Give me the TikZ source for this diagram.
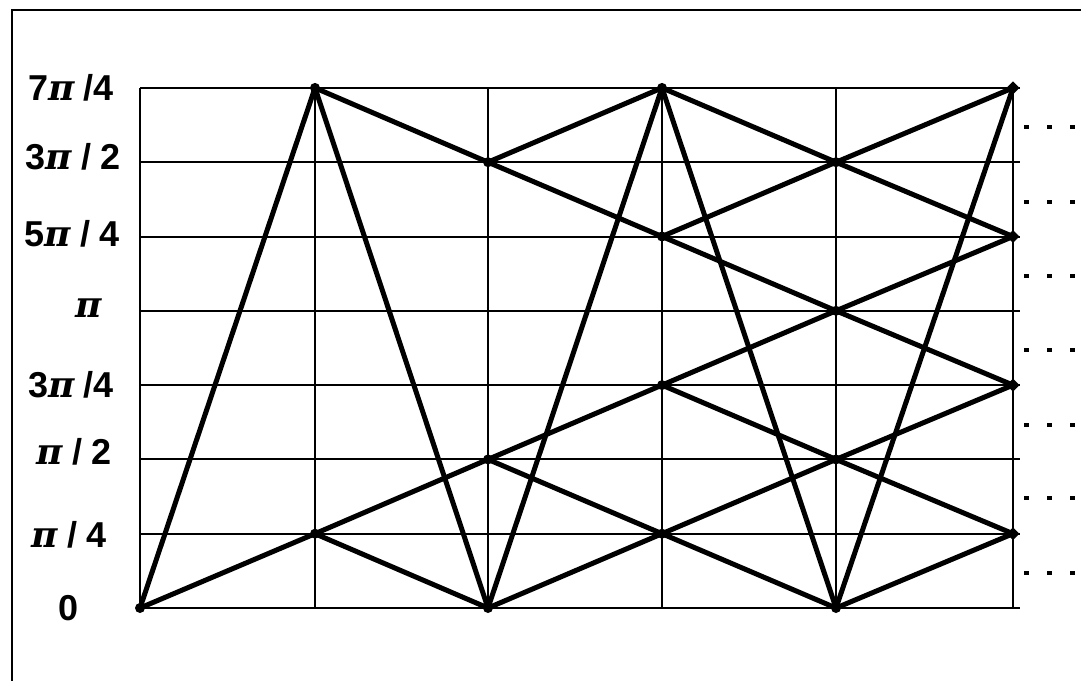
\documentclass[tikz,border=0pt]{standalone}
\usepackage{fontspec}
\setmainfont{Liberation Sans}
\newfontfamily\pif{DejaVu Serif}
\usetikzlibrary{shapes.geometric}
\begin{document}
\begin{tikzpicture}[x=1pt,y=-1pt,
  frame/.style={line width=2.4pt},
  gridline/.style={line width=2pt},
  trel/.style={line width=5pt,line cap=round},
  vtx/.style={circle,fill,inner sep=0pt,minimum size=10pt},
  endv/.style={diamond,fill,inner sep=0pt,minimum size=13pt},
  lab/.style={font=\fontsize{36}{36}\selectfont\bfseries,inner sep=0pt,anchor=center},
  dotrow/.style={line width=4pt,dash pattern=on 5pt off 18pt}]
\newcommand{\PI}{{\pif\bfseries\itshape π}}
\newcommand{\gap}{\hspace{9pt}}
\useasboundingbox (0,0) rectangle (1081,680);
\draw[frame] (12,700) -- (12,10) -- (1100,10);
% grid coordinates
\foreach \c/\x in {0/140,1/315,2/488,3/662,4/836,5/1013}{
  \foreach \r in {0,...,7}{
    \coordinate (v\c-\r) at (\x,{608-74.3*\r});
  }
}
% horizontal lines
\foreach \r in {0,...,7}{
  \coordinate (he\r) at (1020,{608-74.3*\r});
  \draw[gridline] (v0-\r) -- (he\r);
}
% vertical lines
\foreach \c in {0,...,5}{
  \draw[gridline] (v\c-0) -- (v\c-7);
}
% trellis edges
\foreach \a/\b in {0-0/1-1,0-0/1-7,
  1-1/2-0,1-1/2-2,1-7/2-0,1-7/2-6,
  2-0/3-1,2-0/3-7,2-2/3-1,2-2/3-3,2-6/3-5,2-6/3-7,
  3-1/4-0,3-1/4-2,3-3/4-2,3-3/4-4,3-5/4-4,3-5/4-6,3-7/4-6,3-7/4-0,
  4-0/5-1,4-0/5-7,4-2/5-1,4-2/5-3,4-4/5-3,4-4/5-5,4-6/5-5,4-6/5-7}{
  \draw[trel] (v\a) -- (v\b);
}
% vertices
\foreach \v in {0-0,1-1,1-7,2-0,2-2,2-6,3-1,3-3,3-5,3-7,4-0,4-2,4-4,4-6}{
  \node[vtx] (n\v) at (v\v) {};
}
\foreach \v in {5-1,5-3,5-5,5-7}{
  \node[endv] (n\v) at (v\v) {};
}
% dotted continuations
\foreach \y in {127,202,276,350,425,498,573}{
  \coordinate (ds\y) at (1024,\y);
  \coordinate (de\y) at (1090,\y);
  \draw[dotrow] (ds\y) -- (de\y);
}
% labels
\node[lab] (l7) at (71,88) {7\PI\gap/4};
\node[lab] (l6) at (73,157) {3\PI\gap/\gap2};
\node[lab] (l5) at (72,234) {5\PI\gap/\gap4};
\node[lab] (l4) at (89,308) {\PI};
\node[lab] (l3) at (71,385) {3\PI\gap/4};
\node[lab] (l2) at (74,452) {\PI\gap/\gap2};
\node[lab] (l1) at (69,535) {\PI\gap/\gap4};
\node[lab] (l0) at (69,608) {0};
\end{tikzpicture}
\end{document}
